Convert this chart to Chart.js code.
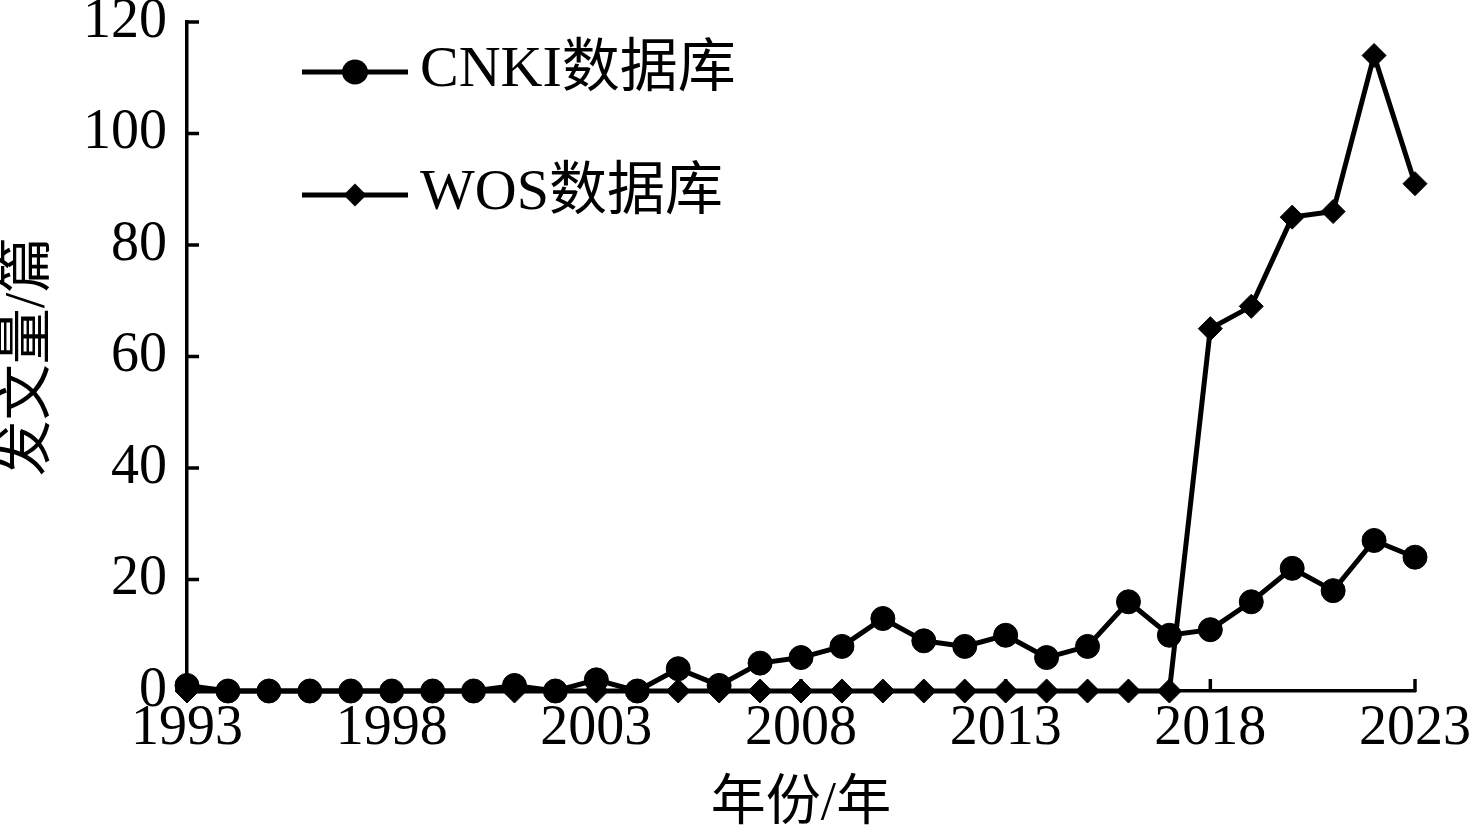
<!DOCTYPE html>
<html>
<head>
<meta charset="utf-8">
<script src="https://cdn.jsdelivr.net/npm/chart.js@4/dist/chart.umd.min.js"></script>
<style>
  html, body { margin: 0; padding: 0; background: #ffffff; }
  #wrap { width: 1472px; height: 838px; position: relative; }
</style>
</head>
<body>
<div id="wrap"><canvas id="c"></canvas></div>
<script>
const years = ['1993','1994','1995','1996','1997','1998','1999','2000','2001','2002','2003','2004','2005','2006','2007','2008','2009','2010','2011','2012','2013','2014','2015','2016','2017','2018','2019','2020','2021','2022','2023'];
const cnki = [1,0,0,0,0,0,0,0,1,0,2,0,4,1,5,6,8,13,9,8,10,6,8,16,10,11,16,22,18,27,24];
const wos  = [0,0,0,0,0,0,0,0,0,0,0,0,0,0,0,0,0,0,0,0,0,0,0,0,0,65,69,85,86,114,91];
const seriesNames = ['CNKI数据库', 'WOS数据库'];
const xTitle = '年份/年';
const yTitle = '发文量/篇';
const yTicks = { min: 0, max: 120, step: 20 };
const labelEvery = 5;

const FONT = "'Liberation Serif', 'Noto Sans CJK SC', serif";

// draw inward tick marks using the scales' own tick pixels
const inwardTicks = {
  id: 'inwardTicks',
  afterDraw(chart) {
    const ctx = chart.ctx;
    const xs = chart.scales.x, ys = chart.scales.y;
    ctx.save();
    ctx.strokeStyle = '#000';
    ctx.lineWidth = 3.5;
    ctx.lineCap = 'butt';
    ys.ticks.forEach((t, i) => {
      const y = ys.getPixelForTick(i);
      ctx.beginPath();
      ctx.moveTo(ys.right - 1, y);
      ctx.lineTo(ys.right + 12, y);
      ctx.stroke();
    });
    xs.ticks.forEach((t, i) => {
      if (i % labelEvery !== 0) return;
      const x = xs.getPixelForTick(i);
      ctx.beginPath();
      ctx.moveTo(x, xs.top + 1);
      ctx.lineTo(x, xs.top - 12);
      ctx.stroke();
    });
    ctx.restore();
  }
};

// legend: line + marker + text, stacked vertically inside the plot
const lineLegend = {
  id: 'lineLegend',
  afterDatasetsDraw(chart) {
    const ctx = chart.ctx;
    const ca = chart.chartArea;
    const x0 = ca.left + 115, x1 = ca.left + 221, xm = ca.left + 168;
    const rows = [ca.top + 50, ca.top + 173];
    ctx.save();
    chart.data.datasets.forEach((ds, i) => {
      const y = rows[i];
      ctx.strokeStyle = '#000';
      ctx.lineWidth = 5;
      ctx.beginPath();
      ctx.moveTo(x0, y);
      ctx.lineTo(x1, y);
      ctx.stroke();
      ctx.fillStyle = '#000';
      ctx.beginPath();
      if (ds.pointStyle === 'circle') {
        ctx.ellipse(xm, y, 13, 12.5, 0, 0, Math.PI * 2);
      } else {
        const r = 11.5;
        ctx.moveTo(xm - r, y);
        ctx.lineTo(xm, y - r);
        ctx.lineTo(xm + r, y);
        ctx.lineTo(xm, y + r);
        ctx.closePath();
      }
      ctx.fill();
      ctx.font = '58px ' + FONT;
      ctx.textBaseline = 'alphabetic';
      ctx.textAlign = 'left';
      ctx.fillText(ds.label, x1 + 12, y + 14);
    });
    ctx.restore();
  }
};

new Chart(document.getElementById('c'), {
  type: 'line',
  data: {
    labels: years,
    datasets: [
      {
        label: seriesNames[0],
        data: cnki,
        borderColor: '#000',
        backgroundColor: '#000',
        borderWidth: 5,
        pointStyle: 'circle',
        pointRadius: 12,
        pointBorderWidth: 1,
        pointBackgroundColor: '#000',
        pointBorderColor: '#000',
        tension: 0,
        clip: false
      },
      {
        label: seriesNames[1],
        data: wos,
        borderColor: '#000',
        backgroundColor: '#000',
        borderWidth: 5,
        pointStyle: 'rectRot',
        pointRadius: 12,
        pointBorderWidth: 1,
        pointBackgroundColor: '#000',
        pointBorderColor: '#000',
        tension: 0,
        clip: false
      }
    ]
  },
  options: {
    responsive: true,
    maintainAspectRatio: false,
    animation: false,
    layout: { padding: { top: 22, right: 57, left: 0, bottom: 0 } },
    plugins: {
      legend: { display: false },
      tooltip: { enabled: false }
    },
    scales: {
      x: {
        type: 'category',
        offset: false,
        grid: { display: true, drawOnChartArea: false, drawTicks: false },
        border: { display: true, color: '#000', width: 3.5 },
        ticks: {
          autoSkip: false,
          maxRotation: 0,
          minRotation: 0,
          padding: 10,
          color: '#000',
          font: { family: FONT, size: 56, lineHeight: 1 },
          callback: function (value, index) {
            return index % labelEvery === 0 ? this.getLabelForValue(value) : '';
          }
        },
        title: {
          display: true,
          text: xTitle,
          color: '#000',
          font: { family: FONT, size: 55, lineHeight: 1 },
          padding: { top: 0, bottom: 6 }
        },
        afterFit(scale) {
          scale.height = 147;
          scale.paddingLeft = 0;
          scale.paddingRight = 0;
        }
      },
      y: {
        min: yTicks.min,
        max: yTicks.max,
        grid: { display: true, drawOnChartArea: false, drawTicks: false },
        border: { display: true, color: '#000', width: 3.5 },
        ticks: {
          stepSize: yTicks.step,
          padding: 20,
          color: '#000',
          font: { family: FONT, size: 56, lineHeight: 1 }
        },
        title: {
          display: true,
          text: yTitle,
          color: '#000',
          font: { family: FONT, size: 56, lineHeight: 1 },
          padding: { top: 1, bottom: 0 }
        },
        afterFit(scale) {
          scale.width = 187;
          scale.paddingTop = 0;
          scale.paddingBottom = 0;
        }
      }
    }
  },
  plugins: [inwardTicks, lineLegend]
});
</script>
</body>
</html>
